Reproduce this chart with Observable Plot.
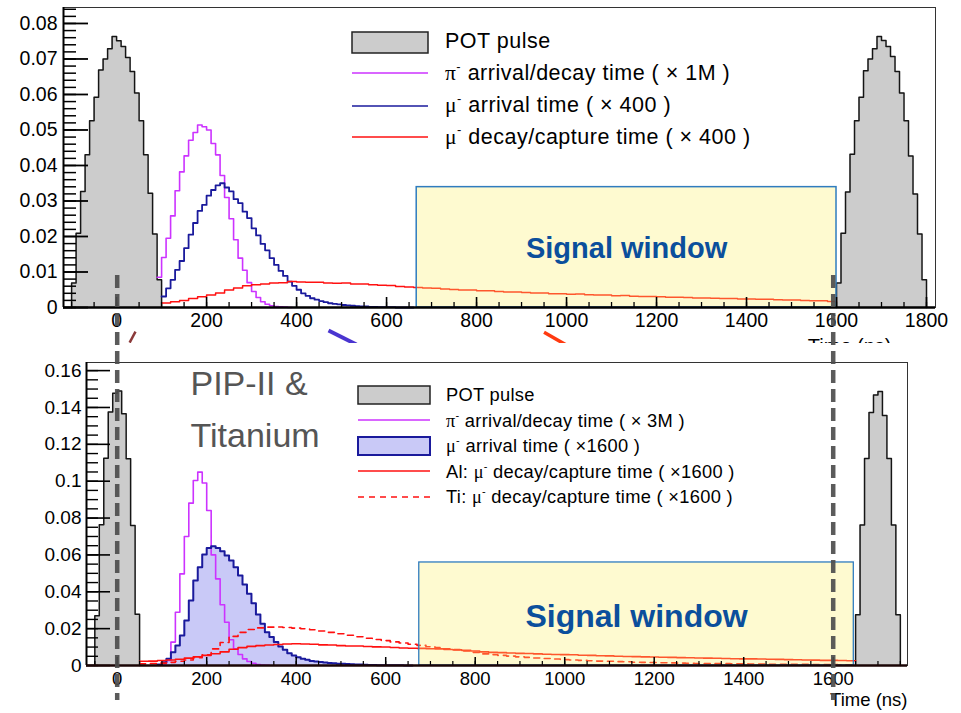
<!DOCTYPE html>
<html><head><meta charset="utf-8">
<script src="https://cdn.jsdelivr.net/npm/d3@7"></script>
<script src="https://cdn.jsdelivr.net/npm/@observablehq/plot@0.6"></script>
<style>
body{margin:0;background:#fff;}
#wrap{position:relative;width:961px;height:713px;overflow:hidden;background:#fff;}
#wrap svg{position:absolute;left:0;}
</style></head><body><div id="wrap"></div>
<script>
// ---------------- DATA ----------------
const BIN = 10;            // ns, pulse / pion / muon-arrival bins
const RBIN = 20;           // ns, decay-time bins

// top panel (Mu2e)
const topPulseStarts = [-100, 1600];
const topPulseLeft  = [0.0069,0.0209,0.0327,0.0430,0.0526,0.0592,0.0669,0.0700,0.0729,0.0763,0.0751,0.0735,0.0704,0.0665,0.0604,0.0526,0.0430,0.0322,0.0207,0.0078];
const topPulseRight = [0.0069,0.0209,0.0325,0.0432,0.0526,0.0592,0.0667,0.0700,0.0729,0.0763,0.0752,0.0735,0.0707,0.0665,0.0604,0.0526,0.0427,0.0320,0.0207,0.0078];
const topPionStart = 90;
const topPion = [0.0085,0.0141,0.0195,0.0258,0.0329,0.0382,0.0427,0.0471,0.0493,0.0514,0.0509,0.0500,0.0462,0.0430,0.0372,0.0310,0.0250,0.0191,0.0139,0.0105,0.0070,0.0045,0.0028,0.0016,0.0009,0.0005,0.0003,0.0002,0.0001,0.0];
const topMuArrStart = 100;
const topMuArr = [0.0031,0.0054,0.0078,0.0106,0.0131,0.0167,0.0205,0.0238,0.0272,0.0289,0.0315,0.0331,0.0344,0.0350,0.0338,0.0327,0.0305,0.0294,0.0270,0.0252,0.0223,0.0203,0.0179,0.0161,0.0139,0.0120,0.0103,0.0089,0.0073,0.0061,0.0050,0.0040,0.0033,0.0026,0.0022,0.0018,0.0015,0.0012,0.0010,0.0009,0.0007,0.0006,0.0005,0.0004,0.0003,0.0003,0.0002,0.0002,0.0001,0.0001,0.0001,0.0001,0.0,0.0,0.0,0.0];
const topMuDecStart = 100;
const topMuDec = [0.0013,0.0016,0.0020,0.0025,0.0030,0.0035,0.0041,0.0049,0.0055,0.0061,
  0.0064,0.0066,0.0069,0.0070,0.0073,0.0072,0.0071,0.0071,0.0069,0.0068,
  0.0069,0.0066,0.0066,0.0064,0.0063,0.0062,0.0059,0.0058,0.0056,0.0055,
  0.0054,0.0052,0.0051,0.0049,0.0049,0.0047,0.0047,0.0045,0.0044,0.0044,
  0.0042,0.0041,0.0041,0.0039,0.0039,0.0037,0.0038,0.0036,0.0035,0.0035,
  0.0033,0.0034,0.0032,0.0031,0.0031,0.0030,0.0029,0.0029,0.0028,0.0027,
  0.0027,0.0026,0.0025,0.0025,0.0024,0.0024,0.0023,0.0023,0.0022,0.0021,
  0.0021,0.0020,0.0019,0.0019,0.0017];
const topWindow = {x1: 667, x2: 1600, top: 0.0339};
const topXTicks = [0,200,400,600,800,1000,1200,1400,1600,1800];
const topXLabels = ["0","200","400","600","800","1000","1200","1400","1600","1800"];
const topYTicks = [0,0.01,0.02,0.03,0.04,0.05,0.06,0.07,0.08];
const topYLabels = ["0","0.01","0.02","0.03","0.04","0.05","0.06","0.07","0.08"];
// fragments of arrows from the slide underneath (ns, value)
const topArtifacts = [
  {x1: 29, y1: -0.0099, x2: 42, y2: -0.0068, color: "#8b3a3a", w: 2.5},
  {x1: 471, y1: -0.0065, x2: 533, y2: -0.0104, color: "#4a35d0", w: 4},
  {x1: 950, y1: -0.0070, x2: 1000, y2: -0.0106, color: "#ff3a10", w: 3.5}
];

// bottom panel (PIP-II & Titanium)
const botPulseStarts = [-50, 1650];
const botPulseLeft  = [0.0270,0.0764,0.1124,0.1375,0.1477,0.1490,0.1366,0.1122,0.0760,0.0278];
const botPulseRight = [0.0276,0.0762,0.1123,0.1373,0.1468,0.1486,0.1357,0.1123,0.0762,0.0276];
const botPionStart = 100;
const botPion = [0.0010,0.0027,0.0127,0.0289,0.0497,0.0700,0.0881,0.1004,0.1049,0.0990,0.0841,0.0600,0.0470,0.0330,0.0235,0.0140,0.0090,0.0060,0.0036,0.0022,0.0012,0.0005,0.0002,0.0001];
const botMuArrStart = 90;
const botMuArr = [0.0006,0.0018,0.0036,0.0072,0.0108,0.0163,0.0244,0.0353,0.0461,0.0533,0.0602,0.0638,0.0647,0.0638,0.0620,0.0597,0.0570,0.0533,0.0488,0.0439,0.0389,0.0338,0.0277,0.0226,0.0181,0.0154,0.0127,0.0103,0.0085,0.0067,0.0054,0.0045,0.0036,0.0031,0.0025,0.0022,0.0019,0.0016,0.0014,0.0012,0.0010,0.0009,0.0008,0.0007,0.0006,0.0005,0.0004,0.0003,0.0003,0.0002,0.0002,0.0001,0.0001,0.0001,0.0001,0.0,0.0];
const botAlStart = 50;
const botAl = [0.0023,0.0024,0.0027,0.0030,0.0034,0.0040,0.0047,0.0055,0.0064,0.0074,
  0.0088,0.0097,0.0104,0.0108,0.0111,0.0114,0.0117,0.0118,0.0117,0.0115,
  0.0112,0.0111,0.0108,0.0106,0.0106,0.0103,0.0101,0.0100,0.0098,0.0095,
  0.0094,0.0093,0.0091,0.0090,0.0087,0.0085,0.0082,0.0079,0.0074,0.0071,
  0.0070,0.0068,0.0066,0.0065,0.0063,0.0061,0.0060,0.0059,0.0058,0.0056,
  0.0055,0.0053,0.0052,0.0050,0.0049,0.0048,0.0047,0.0046,0.0045,0.0044,
  0.0043,0.0042,0.0041,0.0040,0.0039,0.0038,0.0037,0.0036,0.0036,0.0035,
  0.0034,0.0033,0.0032,0.0031,0.0030,0.0029,0.0028,0.0028,0.0027,0.0026];
const botTiStart = 50;
const botTi = [0.0009,0.0010,0.0013,0.0017,0.0023,0.0030,0.0042,0.0058,0.0090,0.0125,
  0.0158,0.0180,0.0195,0.0204,0.0208,0.0209,0.0206,0.0203,0.0199,0.0194,
  0.0187,0.0180,0.0172,0.0164,0.0156,0.0148,0.0141,0.0135,0.0128,0.0122,
  0.0115,0.0109,0.0102,0.0097,0.0091,0.0086,0.0079,0.0071,0.0063,0.0059,
  0.0055,0.0051,0.0047,0.0044,0.0041,0.0038,0.0035,0.0032,0.0030,0.0028,
  0.0026,0.0024,0.0023,0.0021,0.0020,0.0018,0.0017,0.0016,0.0015,0.0014,
  0.0013,0.0012,0.0011,0.0011,0.0010,0.0010,0.0009,0.0009,0.0008,0.0008,
  0.0007,0.0007,0.0006,0.0006,0.0006,0.0005,0.0005,0.0005,0.0004,0.0004];
const botWindow = {x1: 675, x2: 1646, top: 0.0559};
const botXTicks = [0,200,400,600,800,1000,1200,1400,1600];
const botXLabels = ["0","200","400","600","800","1000","1200","1400","1600"];
const botYTicks = [0,0.02,0.04,0.06,0.08,0.10,0.12,0.14,0.16];
const botYLabels = ["0","0.02","0.04","0.06","0.08","0.1","0.12","0.14","0.16"];
const windowEdges = [0, 1600];

const signalLabel = "Signal window";
const xTitle = "Time (ns)";
const panelLabel = "PIP-II &\nTitanium";

const topLegend = [
  {kind: "box", prefix: "POT pulse"},
  {kind: "line", greek: "π", rest: " arrival/decay time ( × 1M )", color: "pink"},
  {kind: "line", greek: "μ", rest: " arrival time ( × 400 )", color: "navy"},
  {kind: "line", greek: "μ", rest: " decay/capture time ( × 400 )", color: "red"}
];
const botLegend = [
  {kind: "box", prefix: "POT pulse"},
  {kind: "line", greek: "π", rest: " arrival/decay time ( × 3M )", color: "pink"},
  {kind: "fillbox", greek: "μ", rest: " arrival time ( ×1600 )", color: "navy"},
  {kind: "line", prefix: "Al: ", greek: "μ", rest: " decay/capture time ( ×1600 )", color: "red"},
  {kind: "dash", prefix: "Ti: ", greek: "μ", rest: " decay/capture time ( ×1600 )", color: "red"}
];

// ---------------- STYLE ----------------
const FONT = '"Liberation Sans", Arimo, Arial, Helvetica, sans-serif';
const SERIF = '"Liberation Serif", "DejaVu Serif", serif';
const C = {pink: "#cc33ff", navy: "#1a1a9c", red: "#ff1010", gray: "#cccccc", lav: "#c9c9f7",
  winFill: "#fbf06e", winStroke: "#2f7cbf", winText: "#0b4f9c"};

function steps(start, width, values, close) {
  const pts = [];
  if (close) pts.push({x: start, y: 0});
  values.forEach((v, i) => pts.push({x: start + i * width, y: v}));
  const end = start + values.length * width;
  pts.push({x: end, y: values[values.length - 1]});
  if (close) pts.push({x: end, y: 0});
  return pts;
}
const fmt = (ticks, labels) => d => labels[ticks.indexOf(d)];
const range = (n, step) => d3.range(n).map(i => +(i * step).toFixed(4));

const wrap = document.getElementById("wrap");

// ---------------- TOP PANEL ----------------
const T = {w: 961, h: 343, mt: 7, ml: 63, mr: 26, mb: 36};
const TFW = T.w - T.ml - T.mr, TFH = T.h - T.mt - T.mb;
const topXDomain = [-118, 1820];
const topPulses = [topPulseLeft, topPulseRight];
const topPlot = Plot.plot({
  width: T.w, height: T.h,
  marginTop: T.mt, marginLeft: T.ml, marginRight: T.mr, marginBottom: T.mb,
  x: {domain: topXDomain, label: null},
  y: {domain: [0, 0.0845], label: null},
  style: {fontFamily: FONT, fontSize: "19px", background: "white", color: "#000"},
  marks: [
    ...topPulseStarts.map((s, k) => Plot.areaY(steps(s, BIN, topPulses[k], true), {x: "x", y: "y", curve: "step-after", fill: C.gray})),
    ...topPulseStarts.map((s, k) => Plot.line(steps(s, BIN, topPulses[k], true), {x: "x", y: "y", curve: "step-after", stroke: "#151515", strokeWidth: 1.5})),
    Plot.line(steps(topPionStart, BIN, topPion, false), {x: "x", y: "y", curve: "step-after", stroke: C.pink, strokeWidth: 1.6}),
    Plot.line(steps(topMuArrStart, BIN, topMuArr, false), {x: "x", y: "y", curve: "step-after", stroke: C.navy, strokeWidth: 1.8}),
    Plot.line(steps(topMuDecStart, RBIN, topMuDec, false), {x: "x", y: "y", curve: "step-after", stroke: C.red, strokeWidth: 1.5}),
    Plot.rect([topWindow], {x1: "x1", x2: "x2", y1: 0, y2: "top", fill: C.winFill, fillOpacity: 0.32, stroke: C.winStroke, strokeWidth: 1.5}),
    Plot.frame({stroke: "#333", strokeWidth: 1}),
    Plot.ruleX(range(39, 50).map(d => d - 100), {insetTop: TFH - 5, stroke: "#000", strokeWidth: 1.3}),
    Plot.ruleX(topXTicks, {insetTop: TFH - 10, stroke: "#000", strokeWidth: 1.6}),
    Plot.ruleY(range(43, 0.002), {insetRight: TFW - 13, stroke: "#000", strokeWidth: 1.5}),
    Plot.ruleY(topYTicks, {insetRight: TFW - 25, stroke: "#000", strokeWidth: 1.8}),
    Plot.ruleX([topXDomain[0]], {stroke: "#000", strokeWidth: 2}),
    Plot.ruleY([0], {stroke: "#000", strokeWidth: 2.5}),
    Plot.axisX(topXTicks, {tickSize: 0, tickPadding: 6, label: null, tickFormat: fmt(topXTicks, topXLabels), fontSize: 19.5}),
    Plot.axisY(topYTicks, {tickSize: 0, tickPadding: 6, label: null, tickFormat: fmt(topYTicks, topYLabels), fontSize: 19.5}),
    Plot.text([topWindow], {x: d => (d.x1 + d.x2) / 2, y: d => d.top * 0.49, text: () => signalLabel, fontSize: 29, fontWeight: "bold", fill: C.winText}),
    Plot.text([xTitle], {text: d => d, frameAnchor: "bottom-right", textAnchor: "end", lineAnchor: "top", dx: -44, dy: 31, fontSize: 20}),
    ...topArtifacts.map(a => Plot.link([a], {x1: "x1", y1: "y1", x2: "x2", y2: "y2", stroke: a.color, strokeWidth: a.w}))
  ]
});
topPlot.style.top = "0px";
wrap.appendChild(topPlot);

// ---------------- BOTTOM PANEL ----------------
const B = {w: 961, h: 370, mt: 19, ml: 86, mr: 54, mb: 48, top: 343};
const BFW = B.w - B.ml - B.mr, BFH = B.h - B.mt - B.mb;
const botXDomain = [-68.6, 1766];
const botPulses = [botPulseLeft, botPulseRight];
const botPlot = Plot.plot({
  width: B.w, height: B.h,
  marginTop: B.mt, marginLeft: B.ml, marginRight: B.mr, marginBottom: B.mb,
  x: {domain: botXDomain, label: null},
  y: {domain: [0, 0.1644], label: null},
  style: {fontFamily: FONT, fontSize: "18px", background: "white", color: "#000"},
  marks: [
    ...botPulseStarts.map((s, k) => Plot.areaY(steps(s, BIN, botPulses[k], true), {x: "x", y: "y", curve: "step-after", fill: C.gray})),
    ...botPulseStarts.map((s, k) => Plot.line(steps(s, BIN, botPulses[k], true), {x: "x", y: "y", curve: "step-after", stroke: "#151515", strokeWidth: 1.5})),
    Plot.areaY(steps(botMuArrStart, BIN, botMuArr, true), {x: "x", y: "y", curve: "step-after", fill: C.lav}),
    Plot.line(steps(botPionStart, BIN, botPion, false), {x: "x", y: "y", curve: "step-after", stroke: C.pink, strokeWidth: 1.6}),
    Plot.line(steps(botMuArrStart, BIN, botMuArr, false), {x: "x", y: "y", curve: "step-after", stroke: C.navy, strokeWidth: 2}),
    Plot.line(steps(botAlStart, RBIN, botAl, false), {x: "x", y: "y", curve: "step-after", stroke: C.red, strokeWidth: 1.6}),
    Plot.line(steps(botTiStart, RBIN, botTi, false), {x: "x", y: "y", curve: "step-after", stroke: C.red, strokeWidth: 1.6, strokeDasharray: "6,5"}),
    Plot.rect([botWindow], {x1: "x1", x2: "x2", y1: 0, y2: "top", fill: C.winFill, fillOpacity: 0.32, stroke: C.winStroke, strokeWidth: 1.3}),
    Plot.frame({stroke: "#333", strokeWidth: 1}),
    Plot.ruleX(range(37, 50).map(d => d - 50), {insetTop: BFH - 4, stroke: "#000", strokeWidth: 1.2}),
    Plot.ruleX(botXTicks, {insetTop: BFH - 8, stroke: "#000", strokeWidth: 1.5}),
    Plot.ruleY(range(33, 0.005), {insetRight: BFW - 12, stroke: "#000", strokeWidth: 1.4}),
    Plot.ruleY(botYTicks, {insetRight: BFW - 24, stroke: "#000", strokeWidth: 1.6}),
    Plot.ruleX([botXDomain[0]], {stroke: "#000", strokeWidth: 2}),
    Plot.ruleY([0], {stroke: "#1a0505", strokeWidth: 2.5}),
    Plot.axisX(botXTicks, {tickSize: 0, tickPadding: 6.5, label: null, tickFormat: fmt(botXTicks, botXLabels), fontSize: 18.5}),
    Plot.axisY(botYTicks, {tickSize: 0, tickPadding: 5, label: null, tickFormat: fmt(botYTicks, botYLabels), fontSize: 19}),
    Plot.text([botWindow], {x: d => (d.x1 + d.x2) / 2, y: d => d.top * 0.47, text: () => signalLabel, fontSize: 32, fontWeight: "bold", fill: C.winText}),
    Plot.text([panelLabel], {text: d => d, frameAnchor: "top-left", textAnchor: "start", lineAnchor: "top", dx: 104, dy: -4, fontSize: 34, lineHeight: 1.53, fill: "#555"}),
    Plot.text([xTitle], {text: d => d, frameAnchor: "bottom-right", textAnchor: "end", lineAnchor: "top", dx: 0, dy: 27, fontSize: 18.5}),
    Plot.ruleX(windowEdges, {insetTop: -87, insetBottom: -35, stroke: "#4d4d4d", strokeWidth: 4.5, strokeDasharray: "13,6", strokeOpacity: 0.92})
  ]
});
botPlot.style.top = B.top + "px";
botPlot.style.overflow = "visible";
wrap.appendChild(botPlot);

// ---------------- LEGENDS ----------------
const ov = d3.select(wrap).append("svg").attr("width", 961).attr("height", 713).style("top", "0px")
  .style("overflow", "visible").attr("font-family", FONT);
function drawLegend(items, o) {
  const g = ov.append("g");
  items.forEach((it, i) => {
    const cy = o.rows[i];
    if (it.kind === "box" || it.kind === "fillbox") {
      g.append("rect").attr("x", o.x0).attr("y", cy - o.boxH / 2).attr("width", o.x1 - o.x0).attr("height", o.boxH)
        .attr("fill", it.kind === "box" ? C.gray : C.lav)
        .attr("stroke", it.kind === "box" ? "#222" : C.navy).attr("stroke-width", it.kind === "box" ? 1.5 : 2);
    } else {
      g.append("line").attr("x1", o.x0).attr("x2", o.x1).attr("y1", cy).attr("y2", cy)
        .attr("stroke", C[it.color]).attr("stroke-width", 1.6)
        .attr("stroke-dasharray", it.kind === "dash" ? "6,5" : null);
    }
    const t = g.append("text").attr("x", o.tx).attr("y", o.base[i]).attr("font-size", o.fs)
      .attr("letter-spacing", o.ls).attr("fill", "#000");
    if (it.prefix) t.append("tspan").text(it.prefix);
    if (it.greek) {
      t.append("tspan").attr("font-family", SERIF).text(it.greek);
      t.append("tspan").attr("font-size", o.fs * 0.6).attr("dy", -o.fs * 0.42).text("-");
      t.append("tspan").attr("dy", o.fs * 0.42).text(it.rest);
    }
  });
}
drawLegend(topLegend, {x0: 352, x1: 428, tx: 445, fs: 21.5, ls: 0.5, boxH: 21, rows: [42.5, 73, 106, 137], base: [48, 80, 112, 143.5]});
drawLegend(botLegend, {x0: 358, x1: 430, tx: 446, fs: 18.3, ls: 0.3, boxH: 18, rows: [395, 420, 446, 471, 497], base: [401, 426.5, 452, 477.5, 503]});
</script></body></html>
